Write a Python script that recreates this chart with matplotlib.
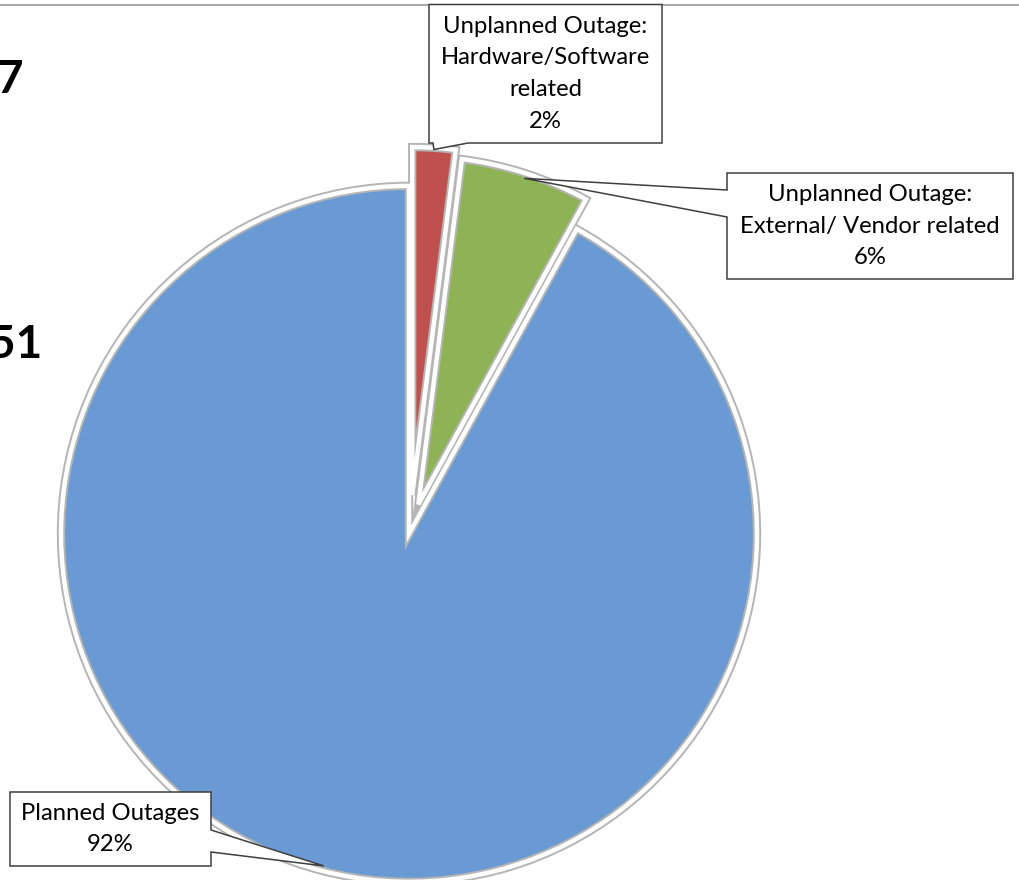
import numpy as np
import matplotlib
matplotlib.use('Agg')
import matplotlib.pyplot as plt
from matplotlib.patches import Polygon


### chart data

labels = ['Unplanned Outage:\nHardware/Software\nrelated',
          'Unplanned Outage:\nExternal/ Vendor related',
          'Planned Outages']
shares = [2, 6, 92]                       # percent
colors = ['#C0504D', '#8DB354', '#6A9AD3']
fragments = ['7', '51']                   # title text cut off at the left edge

W, H = 1020, 880
plt.rcParams['font.family'] = ['Lato', 'DejaVu Sans']


def py(y):
    ## work in image pixels measured from the top
    return H - y


def callout(ax, box, side, base, tip, text, fontsize=17.2):
    '''
    box: (x0, y0, x1, y1) pixel rect, y from top
    side: edge the pointer leaves from ('left', 'right', 'bottom')
    base: two positions along that edge
    tip: (x, y) in data coords
    '''
    x0, y0, x1, y1 = box
    tl, tr, br, bl = (x0, py(y0)), (x1, py(y0)), (x1, py(y1)), (x0, py(y1))
    if side == 'left':
        verts = [tl, tr, br, bl, (x0, py(base[1])), tip, (x0, py(base[0]))]
    elif side == 'right':
        verts = [tl, tr, (x1, py(base[0])), tip, (x1, py(base[1])), br, bl]
    else:
        verts = [tl, tr, br, (base[1], py(y1)), tip, (base[0], py(y1)), bl]
    ax.add_patch(Polygon(verts, closed=True, facecolor='white',
                         edgecolor='#3F3F3F', lw=1.1, zorder=5))
    ax.text((x0 + x1) / 2, py((y0 + y1) / 2), text, ha='center', va='center',
            fontsize=fontsize, linespacing=1.63, color='black', zorder=6)


def arc_point(w, frac=0.98):
    ## point near the outer arc at the middle angle of a wedge
    a = np.deg2rad((w.theta1 + w.theta2) / 2)
    cx, cy = w.center
    return (cx + w.r * frac * np.cos(a), cy + w.r * frac * np.sin(a))


fig = plt.figure(figsize=(W / 100, H / 100), dpi=100)
ax = fig.add_axes([0, 0, 1, 1])

R = 348
center = (410, py(530))
explode = [35, 27, 4]

## gray outline, then white bevel edge on top
wedges, _ = ax.pie(shares, explode=explode, colors=colors, startangle=90,
                   counterclock=False, radius=R, center=center,
                   wedgeprops=dict(edgecolor='#B5B5B5', lw=6))
ax.pie(shares, explode=explode, startangle=90, counterclock=False,
       radius=R, center=center,
       wedgeprops=dict(fill=False, edgecolor='white', lw=3.2))

ax.set_xlim(0, W)
ax.set_ylim(0, H)
ax.set_aspect('equal')
ax.axis('off')

## data callouts
callout(ax, (429, 4.5, 662, 143), 'bottom', (433, 468),
        arc_point(wedges[0], 0.995), labels[0] + '\n%d%%' % shares[0])
callout(ax, (727, 173, 1013, 279), 'left', (190, 217),
        arc_point(wedges[1], 0.985), labels[1] + '\n%d%%' % shares[1])
callout(ax, (10, 792, 211, 866), 'right', (830, 852),
        arc_point(wedges[2], 0.985), labels[2] + '\n%d%%' % shares[2])

## frame line at the top
ax.plot([0, W], [py(4.5), py(4.5)], color='#A6A6A6', lw=1.4, zorder=4)

## title fragments clipped at the left edge
ax.text(23, py(93), fragments[0], ha='right', va='baseline',
        fontsize=33, fontweight='bold', color='black')
ax.text(42, py(358), fragments[1], ha='right', va='baseline',
        fontsize=33, fontweight='bold', color='black')

fig.savefig('out.png', dpi=100)
